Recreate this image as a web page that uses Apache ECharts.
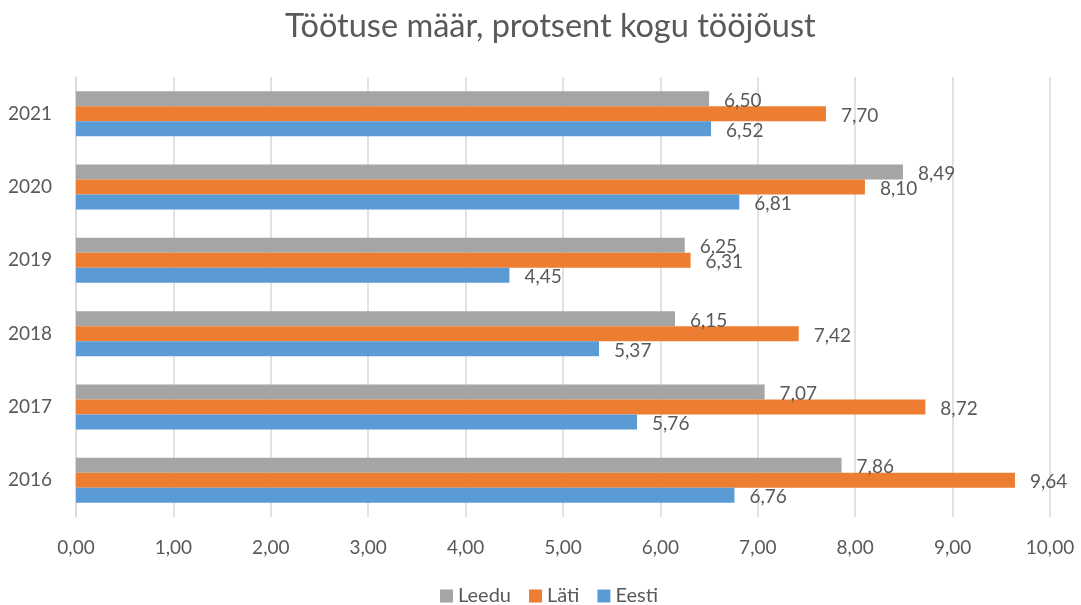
<!DOCTYPE html>
<html><head><meta charset="utf-8">
<script src="https://cdn.jsdelivr.net/npm/echarts@6/dist/echarts.min.js"></script>
<style>html,body{margin:0;padding:0;background:#fff}#c{width:1081px;height:605px}</style>
</head><body><div id="c"></div>
<script>
const categories = ['2016','2017','2018','2019','2020','2021'];
const eesti = [6.76, 5.76, 5.37, 4.45, 6.81, 6.52];
const lati  = [9.64, 8.72, 7.42, 6.31, 8.10, 7.70];
const leedu = [7.86, 7.07, 6.15, 6.25, 8.49, 6.50];
const xTicks = [0,1,2,3,4,5,6,7,8,9,10];

const font = 'Lato';
const txt = '#595959';
const fmt = v => v.toFixed(2).replace('.', ',');
function mk(name, data, color) {
  return {
    name, type: 'bar', data, barWidth: 15, barGap: '0%',
    itemStyle: { color },
    label: { show: true, position: 'right', distance: 15, offset: [0, 2], color: txt, fontFamily: font, fontSize: 19,
      formatter: p => fmt(p.value) },
    emphasis: { disabled: true }
  };
}
const chart = echarts.init(document.getElementById('c'), null, { renderer: 'canvas' });
chart.setOption({
  animation: false,
  title: { text: 'Töötuse määr, protsent kogu tööjõust', left: 280, top: 5,
    textStyle: { fontFamily: font, fontSize: 32.5, fontWeight: 'normal', color: txt } },
  legend: { data: ['Leedu','Läti','Eesti'], top: 586, left: 440, padding: 0, itemWidth: 13, itemHeight: 13, itemGap: 18,
    icon: 'rect', textStyle: { fontFamily: font, fontSize: 20, color: txt } },
  grid: { left: 76, right: 31, top: 77, bottom: 88, containLabel: false },
  xAxis: { type: 'value', min: 0, max: 10, interval: 1,
    axisLabel: { formatter: v => fmt(v), color: txt, fontFamily: font, fontSize: 19, margin: 21 },
    splitLine: { lineStyle: { color: '#D9D9D9', width: 1.5 } },
    axisLine: { show: false }, axisTick: { show: false } },
  yAxis: { type: 'category', data: categories,
    axisLabel: { color: txt, fontFamily: font, fontSize: 19, margin: 24 },
    axisLine: { show: true, lineStyle: { color: '#D9D9D9', width: 1.5 } }, axisTick: { show: false } },
  series: [ mk('Leedu', leedu, '#A5A5A5'), mk('Läti', lati, '#ED7D31'), mk('Eesti', eesti, '#5B9BD5') ]
});
</script></body></html>
